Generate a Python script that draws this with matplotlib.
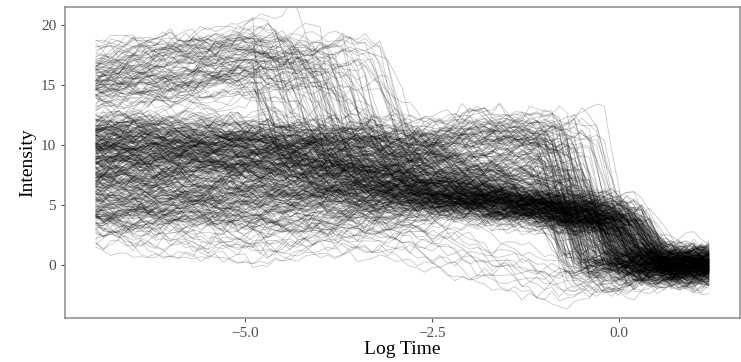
import numpy as np
import matplotlib
matplotlib.use("Agg")
import matplotlib.pyplot as plt

plt.rcParams['font.family'] = ['Liberation Serif', 'DejaVu Serif']

# time grid (log time): traces run from -7 to about 1.2
log_time = np.round(np.arange(-7.0, 1.21, 0.1), 2)

# trace groups (one entry per group)
group_names  = ["high", "mid", "hump", "low", "bottom"]
group_counts = [95, 140, 55, 150, 14]
start_lo     = [13.0, 8.5, 7.5, 3.0, 1.5]      # level at -7
start_hi     = [18.0, 12.0, 11.5, 8.0, 3.5]
peak_lo      = [14.5, 8.5, 8.5, 3.5, 1.0]      # level at -5
peak_hi      = [19.5, 11.5, 10.5, 7.5, 3.0]
drop1_lo     = [-5.0, -4.3, -2.6, -3.0, -2.2]  # centre of first descent
drop1_hi     = [-2.7, -1.8, -2.0, -2.0, -1.2]
width1_lo    = [0.2, 0.6, 0.5, 0.5, 1.5]
width1_hi    = [0.9, 2.0, 1.0, 1.0, 2.5]
after1_lo    = [5.0, 5.0, 10.0, 4.5, -2.5]     # level after first descent
after1_hi    = [12.0, 7.5, 12.5, 6.5, -0.5]
before2_lo   = [4.0, 3.0, 9.5, 2.8, -2.8]      # level just before final drop
before2_hi   = [11.0, 5.5, 12.5, 4.5, -1.0]
drop2_lo     = [-1.0, -0.2, -0.9, -0.1, 0.0]   # centre of final drop
drop2_hi     = [-0.2, 0.5, 0.0, 0.6, 0.4]
final_mean   = [0.0, 0.0, 0.2, 0.0, -0.6]

# individual traces are too dense to read one by one: jitter around the group paths
rng = np.random.default_rng(11)

fig, ax = plt.subplots(figsize=(7.41, 3.62), dpi=100)
fig.subplots_adjust(left=0.088, right=0.998, top=0.981, bottom=0.122)

for g in range(len(group_names)):
    for _ in range(group_counts[g]):
        a = rng.uniform(start_lo[g], start_hi[g])
        b = np.clip(a + rng.uniform(-1, 1) * 0.8 + (peak_lo[g] + peak_hi[g] - start_lo[g] - start_hi[g]) / 2,
                    peak_lo[g], peak_hi[g])
        t1 = rng.uniform(drop1_lo[g], drop1_hi[g])
        w1 = rng.uniform(width1_lo[g], width1_hi[g])
        c = rng.uniform(after1_lo[g], after1_hi[g])
        d = rng.uniform(before2_lo[g], before2_hi[g])
        t2 = rng.uniform(drop2_lo[g], drop2_hi[g])
        w2 = rng.uniform(0.25, 0.6)
        e = rng.normal(final_mean[g], 0.45)
        s1 = max(t1 - w1 / 2, -4.9)
        e1 = max(t1 + w1 / 2, s1 + 0.1)
        s2 = max(t2 - w2 / 2, e1 + 0.2)
        kx = [-7, -5, s1, e1, s2, s2 + w2, 1.3]
        ky = [a, b, b + rng.uniform(-0.6, 0.6), c, d, e, e]
        base = np.interp(log_time, kx, ky)
        noise = np.zeros_like(log_time)
        noise[0] = rng.normal(0, 0.5)
        for i in range(1, len(noise)):
            noise[i] = 0.8 * noise[i - 1] + rng.normal(0, 0.4)
        ax.plot(log_time, base + noise, color='black', alpha=0.22, lw=0.6)

ax.set_xlim(-7.41, 1.61)
ax.set_ylim(-4.4, 21.5)
ax.set_xticks([-5.0, -2.5, 0.0])
ax.set_xticklabels(['\u22125.0', '\u22122.5', '0.0'])
ax.set_yticks([0, 5, 10, 15, 20])
ax.tick_params(colors='#4d4d4d', labelsize=11, length=3, width=0.8)
for s in ax.spines.values():
    s.set_color('#8c8c8c')
    s.set_linewidth(1.1)
ax.set_xlabel('Log Time', fontsize=14, labelpad=1)
ax.set_ylabel('Intensity', fontsize=14, labelpad=3)

fig.savefig('out.png', dpi=100)
